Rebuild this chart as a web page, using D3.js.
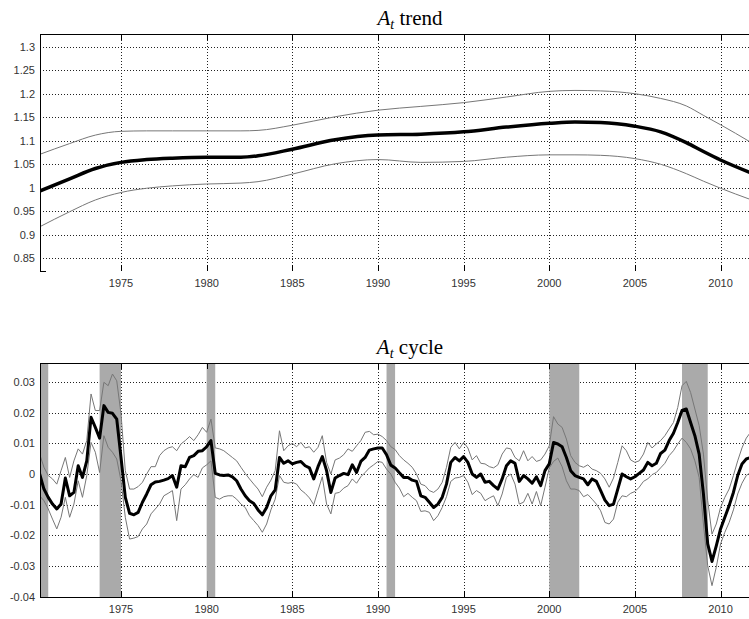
<!DOCTYPE html>
<html>
<head>
<meta charset="utf-8">
<script src="https://cdn.jsdelivr.net/npm/d3@7"></script>
<style>
  body { margin: 0; background: #fff; }
  svg { display: block; }
  .tick-label { font-family: "Liberation Sans", Arial, sans-serif; font-size: 11px; fill: #333; }
  .title { font-family: "Liberation Serif", "DejaVu Serif", serif; font-size: 21px; fill: #000; }
</style>
</head>
<body>
<div id="chart"></div>
<script>
// trend panel: knots (year, middle, bands)
let trendYears = [1970.25, 1972, 1973.5, 1975, 1976.5, 1978, 1980, 1982, 1983, 1985, 1987.5, 1990,
                  1992.5, 1995, 1997.5, 2000, 2001.5, 2003, 2005, 2006.5, 2008, 2009, 2010, 2011.75];
let trendMid   = [0.993, 1.019, 1.041, 1.054, 1.060, 1.063, 1.065, 1.065, 1.068, 1.082, 1.102, 1.112,
                  1.114, 1.119, 1.129, 1.137, 1.140, 1.139, 1.131, 1.119, 1.096, 1.077, 1.059, 1.032];
let trendUpper = [1.071, 1.094, 1.112, 1.120, 1.121, 1.121, 1.121, 1.121, 1.122, 1.133, 1.151, 1.165,
                  1.173, 1.181, 1.193, 1.205, 1.207, 1.206, 1.200, 1.190, 1.174, 1.154, 1.134, 1.097];
let trendLower = [0.917, 0.949, 0.974, 0.990, 0.999, 1.004, 1.008, 1.010, 1.013, 1.029, 1.051, 1.060,
                  1.054, 1.056, 1.065, 1.070, 1.070, 1.069, 1.062, 1.050, 1.030, 1.014, 0.999, 0.975];

// cycle panel: quarterly, first quarter = 1970Q2
let cycleStart = 1970.25;
let cycleMid = [
  0.0, -0.0049, -0.0076, -0.0098, -0.0114, -0.0098, -0.0013, -0.0071, -0.006, 0.0027,
  -0.0011, 0.0043, 0.0185, 0.0152, 0.0117, 0.0223, 0.0201, 0.0198, 0.0179, 0.0054,
  -0.0076, -0.0128, -0.0133, -0.0125, -0.0092, -0.0065, -0.0035, -0.0026, -0.0024, -0.002,
  -0.0015, -0.0005, -0.0043, 0.0027, 0.0024, 0.0054, 0.006, 0.0074, 0.0076, 0.0089,
  0.0109, 0.0002, -0.0003, -0.0005, -0.0003, -0.0009, -0.0022, -0.0049, -0.0071, -0.0087,
  -0.0096, -0.0117, -0.0133, -0.0109, -0.0071, -0.0052, 0.0054, 0.0035, 0.0043, 0.0033,
  0.0038, 0.0041, 0.0027, 0.002, -0.0016, 0.0024, 0.0057, 0.0011, -0.006, -0.0013,
  -0.0005, 0.0002, -0.0002, 0.003, 0.0005, 0.0041, 0.0054, 0.0078, 0.0082, 0.0085,
  0.0085, 0.0063, 0.0029, 0.002, 0.0004, -0.0011, -0.0011, -0.002, -0.0024, -0.0071,
  -0.0076, -0.0092, -0.0109, -0.0098, -0.0076, -0.0033, 0.0038, 0.0054, 0.0043, 0.0057,
  0.0038, 0.0, -0.0011, 0.0, -0.0027, -0.0024, -0.0038, -0.0049, -0.0016, 0.0027,
  0.0043, 0.0035, -0.0024, -0.0005, -0.0016, -0.003, -0.0009, -0.0038, 0.0011, 0.0033,
  0.0103, 0.0098, 0.0089, 0.0054, 0.0011, -0.0005, -0.0011, -0.0016, -0.0035, -0.0016,
  -0.0024, -0.0054, -0.0085, -0.0103, -0.0098, -0.0049, 0.0, -0.0009, -0.0016, -0.0009,
  0.0002, 0.0013, 0.0038, 0.0027, 0.0035, 0.0067, 0.0078, 0.0109, 0.0133, 0.0168,
  0.0207, 0.0212, 0.0168, 0.0125, 0.0065, -0.0065, -0.0228, -0.0285, -0.0234, -0.0179,
  -0.0141, -0.0103, -0.006, -0.0005, 0.0033, 0.0049, 0.0054
];
let cycleUpper = [
  0.0065, 0.0022, -0.0005, -0.0016, -0.0033, 0.0011, 0.0054, -0.0011, 0.0043, 0.0082,
  0.0065, 0.0109, 0.0261, 0.0207, 0.0207, 0.0299, 0.0288, 0.0326, 0.0304, 0.0196,
  0.0011, -0.0049, -0.0049, -0.0041, -0.0027, 0.0, 0.0024, 0.0024, 0.006, 0.0076,
  0.0085, 0.0089, 0.0076, 0.0098, 0.0109, 0.0122, 0.0109, 0.0128, 0.0152, 0.0136,
  0.0179, 0.0085, 0.0082, 0.0076, 0.0065, 0.0054, 0.0043, 0.0022, 0.0002, -0.0016,
  -0.0033, -0.0049, -0.0074, -0.0043, -0.002, 0.0011, 0.0141, 0.0076, 0.0092, 0.01,
  0.0089, 0.0103, 0.0085, 0.0089, 0.0071, 0.0087, 0.0125, 0.0038, 0.0, 0.0046,
  0.0052, 0.0063, 0.0082, 0.0074, 0.0092, 0.0109, 0.0136, 0.0139, 0.0128, 0.013,
  0.0122, 0.0109, 0.0089, 0.008, 0.006, 0.0046, 0.0035, 0.0022, 0.0, -0.0033,
  -0.0038, -0.0054, -0.006, -0.0049, -0.0027, 0.0022, 0.0087, 0.0103, 0.0082, 0.0103,
  0.0085, 0.0046, 0.006, 0.0035, 0.0033, 0.0024, 0.002, 0.003, 0.0065, 0.0085,
  0.0082, 0.0054, 0.0043, 0.0076, 0.0043, 0.0057, 0.0041, 0.0046, 0.0065, 0.0092,
  0.0187, 0.0163, 0.0152, 0.0114, 0.006, 0.0038, 0.0027, 0.0022, 0.003, 0.0016,
  0.0011, 0.0002, -0.0016, -0.0043, -0.0013, 0.0038, 0.0092, 0.0076, 0.0046, 0.0038,
  0.0043, 0.0065, 0.0103, 0.0085, 0.0098, 0.0109, 0.0125, 0.0147, 0.0168, 0.0217,
  0.0288, 0.0302, 0.0266, 0.0212, 0.0158, 0.0065, -0.0087, -0.0196, -0.0163, -0.0109,
  -0.0076, -0.0049, -0.0005, 0.0043, 0.0085, 0.0117, 0.0136
];
let cycleLower = [
  -0.0071, -0.0087, -0.0114, -0.0147, -0.0179, -0.0141, -0.0076, -0.0141, -0.0098, -0.0022,
  -0.0076, -0.0005, 0.0103, 0.0071, 0.0005, 0.0125, 0.0087, 0.0071, 0.0049, -0.0022,
  -0.0141, -0.0212, -0.0209, -0.0204, -0.0179, -0.0163, -0.013, -0.0114, -0.0098, -0.0071,
  -0.0063, -0.0054, -0.0152, -0.0049, -0.0035, -0.0016, -0.0002, -0.0011, 0.002, 0.003,
  0.0043, -0.0076, -0.0082, -0.0074, -0.0071, -0.0071, -0.0082, -0.0098, -0.0109, -0.0136,
  -0.0152, -0.0168, -0.019, -0.0163, -0.0117, -0.0082, -0.0005, -0.0027, -0.003, -0.0027,
  -0.0033, -0.0052, -0.0063, -0.0078, -0.01, -0.0054, -0.0009, -0.0098, -0.013, -0.0063,
  -0.006, -0.0046, -0.0038, -0.0016, -0.003, -0.0009, 0.0005, 0.002, 0.003, 0.0041,
  0.0038, 0.0016, 0.0, -0.0027, -0.0046, -0.0074, -0.0063, -0.0076, -0.0087, -0.0122,
  -0.012, -0.0125, -0.0152, -0.0136, -0.0109, -0.0074, -0.0024, -0.0013, -0.0011, -0.0005,
  -0.0027, -0.0067, -0.0054, -0.0063, -0.0087, -0.0078, -0.0071, -0.0103, -0.0065, -0.0011,
  0.0, -0.0033, -0.0098, -0.0092, -0.0063, -0.0098, -0.0057, -0.0103, -0.0043, 0.002,
  0.0041, 0.0052, 0.0024, -0.0022, -0.0049, -0.0049, -0.0054, -0.0074, -0.0067, -0.0082,
  -0.0098, -0.012, -0.0158, -0.0163, -0.0147, -0.0092, -0.0071, -0.0074, -0.0063, -0.0057,
  -0.0043, -0.0024, -0.0016, -0.0002, 0.0005, 0.002, 0.0035, 0.006, 0.0076, 0.0098,
  0.0117, 0.0103, 0.0082, 0.0043, -0.0011, -0.0163, -0.0299, -0.0364, -0.0304, -0.0228,
  -0.019, -0.0158, -0.0117, -0.0065, -0.003, -0.0005, 0.0005
];

// NBER recessions (start, end)
let recessionStart = [1969.75, 1973.75, 1980.0, 1990.5, 2000.0, 2007.75];
let recessionEnd   = [1970.75, 1975.0, 1980.5, 1991.0, 2001.75, 2009.25];

let xTicks = [1975, 1980, 1985, 1990, 1995, 2000, 2005, 2010];
let trendTicks = [0.85, 0.9, 0.95, 1, 1.05, 1.1, 1.15, 1.2, 1.25, 1.3];
let cycleTicks = [-0.04, -0.03, -0.02, -0.01, 0, 0.01, 0.02, 0.03];

let W = 749, H = 619;
let svg = d3.select("#chart").append("svg")
    .attr("width", W)
    .attr("height", H);

let x = d3.scaleLinear().domain([1970.27, 2013.47]).range([40, 780]);

function drawPanel(opt) {
    let y = d3.scaleLinear().domain(opt.domain).range([opt.bottom, opt.top]);
    let g = svg.append("g");
    let x0 = x.range()[0], x1 = x.range()[1];

    // dotted grid
    g.selectAll(".hgrid").data(opt.yTicks).enter().append("line")
        .attr("x1", x0).attr("x2", x1)
        .attr("y1", d => Math.round(y(d)) + 0.5).attr("y2", d => Math.round(y(d)) + 0.5)
        .attr("stroke", "#222").attr("stroke-width", 1).attr("stroke-dasharray", "1,2");
    g.selectAll(".vgrid").data(xTicks).enter().append("line")
        .attr("x1", d => Math.round(x(d)) + 0.5).attr("x2", d => Math.round(x(d)) + 0.5)
        .attr("y1", opt.top).attr("y2", opt.bottom)
        .attr("stroke", "#222").attr("stroke-width", 1).attr("stroke-dasharray", "1,2");

    // shaded recessions
    if (opt.recessions) {
        g.selectAll(".rec").data(recessionStart).enter().append("rect")
            .attr("x", (d) => Math.max(x(d), x0))
            .attr("width", (d, i) => x(recessionEnd[i]) - Math.max(x(d), x0))
            .attr("y", opt.top)
            .attr("height", opt.bottom - opt.top)
            .attr("fill", "#aaaaaa");
    }

    // lines
    let line = d3.line()
        .x(d => x(d[0]))
        .y(d => y(d[1]))
        .curve(opt.curve);
    let clipId = "clip" + opt.top;
    svg.append("clipPath").attr("id", clipId).append("rect")
        .attr("x", x0).attr("y", opt.top).attr("width", x1 - x0).attr("height", opt.bottom - opt.top);
    let lg = g.append("g").attr("clip-path", "url(#" + clipId + ")");
    [opt.upper, opt.lower].forEach(function(s) {
        lg.append("path")
            .datum(opt.years.map((t, i) => [t, s[i]]))
            .attr("d", line)
            .attr("fill", "none")
            .attr("stroke", "#777")
            .attr("stroke-width", 1);
    });
    lg.append("path")
        .datum(opt.years.map((t, i) => [t, opt.mid[i]]))
        .attr("d", line)
        .attr("fill", "none")
        .attr("stroke", "#000")
        .attr("stroke-width", opt.midWidth)
        .attr("stroke-linejoin", "round");

    // box: left and top always, bottom only when asked
    g.append("line").attr("x1", x0 + 0.5).attr("x2", x0 + 0.5)
        .attr("y1", opt.top).attr("y2", opt.bottom + 0.5).attr("stroke", "#000");
    g.append("line").attr("x1", x0).attr("x2", x1)
        .attr("y1", opt.top + 0.5).attr("y2", opt.top + 0.5).attr("stroke", "#000");
    if (opt.bottomLine) {
        g.append("line").attr("x1", x0).attr("x2", x1)
            .attr("y1", opt.bottom + 0.5).attr("y2", opt.bottom + 0.5).attr("stroke", "#000");
    } else {
        g.append("line").attr("x1", x0).attr("x2", x0 + 6)
            .attr("y1", opt.bottom + 0.5).attr("y2", opt.bottom + 0.5).attr("stroke", "#000");
    }

    // inward ticks on top and bottom
    xTicks.forEach(function(t) {
        let px = Math.round(x(t)) + 0.5;
        g.append("line").attr("x1", px).attr("x2", px)
            .attr("y1", opt.top).attr("y2", opt.top + 6).attr("stroke", "#000");
        g.append("line").attr("x1", px).attr("x2", px)
            .attr("y1", opt.bottom - 6).attr("y2", opt.bottom).attr("stroke", "#000");
    });

    // tick labels
    g.selectAll(".xl").data(xTicks).enter().append("text")
        .attr("class", "tick-label")
        .attr("x", d => x(d))
        .attr("y", opt.bottom + 16)
        .attr("text-anchor", "middle")
        .text(d => d);
    g.selectAll(".yl").data(opt.yTicks).enter().append("text")
        .attr("class", "tick-label")
        .attr("x", x0 - 5)
        .attr("y", d => y(d))
        .attr("dy", "0.35em")
        .attr("text-anchor", "end")
        .text(d => opt.fmt(d));

    // title
    let title = svg.append("text")
        .attr("class", "title")
        .attr("x", (x0 + x1) / 2)
        .attr("y", opt.top - 9)
        .attr("text-anchor", "middle");
    title.append("tspan").attr("font-style", "italic").text("A");
    title.append("tspan").attr("font-style", "italic").attr("font-size", "14px").attr("dy", 4).text("t");
    title.append("tspan").attr("dy", -4).text(" " + opt.title);
}

drawPanel({
    top: 34, bottom: 271, domain: [0.823, 1.327],
    yTicks: trendTicks, fmt: d3.format(""),
    years: trendYears, mid: trendMid, upper: trendUpper, lower: trendLower,
    curve: d3.curveMonotoneX, midWidth: 3.5, bottomLine: false, recessions: false,
    title: "trend"
});

drawPanel({
    top: 363, bottom: 597, domain: [-0.0401, 0.0362],
    yTicks: cycleTicks, fmt: d => d === 0 ? "0" : d.toFixed(2),
    years: cycleMid.map((v, i) => cycleStart + 0.25 * i),
    mid: cycleMid, upper: cycleUpper, lower: cycleLower,
    curve: d3.curveLinear, midWidth: 3, bottomLine: true, recessions: true,
    title: "cycle"
});
</script>
</body>
</html>
